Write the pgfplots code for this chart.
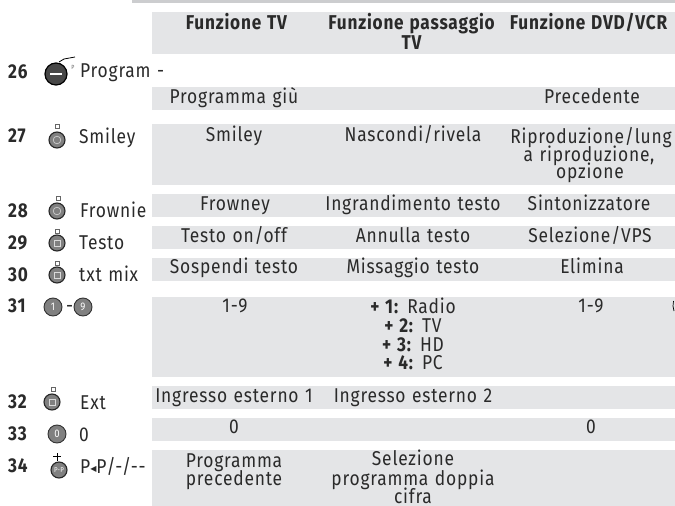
\documentclass[border=0pt]{standalone}
\usepackage{pgfplots}
\pgfplotsset{compat=1.18}
\usepackage{fontspec}
\setmainfont[FakeStretch=0.87,LetterSpace=4,Ligatures=NoCommon,WordSpace=1.2,BoldFeatures={FakeStretch=0.86}]{Fira Sans}
\newfontfamily\djv{DejaVu Sans}
\definecolor{band}{HTML}{E4E5E7}
\definecolor{topband}{HTML}{CCCDCF}
\definecolor{ink}{HTML}{2A2A2A}
\newcommand{\cell}[3]{\node[anchor=base,inner sep=0pt,text=ink] at (axis cs:#1,#2) {#3};}
\newcommand{\lft}[3]{\node[anchor=base west,inner sep=0pt,text=ink] at (axis cs:#1,#2) {#3};}
\newcommand{\wht}[4]{\node[inner sep=0pt,text=white] at (axis cs:#1,#2) {\fontsize{#4}{#4}\selectfont #3};}
\newcommand{\band}[5]{\addplot[fill=#5,draw=none] coordinates {(#1,#3) (#2,#3) (#2,#4) (#1,#4)} -- cycle;}
\begin{document}
\begin{tikzpicture}
\path[use as bounding box] (0,0) rectangle (675pt,506pt);
\fontsize{20pt}{20pt}\selectfont
\begin{axis}[at={(0,0)},anchor=south west,scale only axis,width=675pt,height=506pt,
 xmin=0,xmax=675,ymin=0,ymax=506,y dir=reverse,hide axis,clip=true,clip mode=individual]
\band{132}{675}{0}{3}{topband}
\band{152}{675}{12}{54}{band}
\band{152}{675}{87}{110}{band}
\band{152}{675}{124}{185}{band}
\band{152}{675}{194}{217}{band}
\band{152}{675}{226}{249}{band}
\band{152}{675}{258}{281}{band}
\band{152}{675}{297}{377}{band}
\band{152}{675}{386}{409}{band}
\band{152}{675}{418}{441}{band}
\band{152}{675}{450}{506}{band}
% buttons: body
\addplot[only marks,mark=*,mark size=11pt,mark options={fill=black!72,draw=black,line width=1.2pt}] coordinates {(56,74)};
\addplot[only marks,mark=*,mark size=8pt,mark options={fill=black!50,draw=black!85,line width=1.1pt}] coordinates {(57,140)(57,211)(57,243)(57,275)(52,402)(59,470)};
\addplot[only marks,mark=*,mark size=9pt,mark options={fill=black!50,draw=black!80,line width=.9pt}] coordinates {(53,307)(83,307)(57,434)};
% button inner glyphs
\addplot[only marks,mark=o,mark size=3.8pt,mark options={draw=black!20,line width=.7pt}] coordinates {(57,140)(57,211)};
\addplot[only marks,mark=square,mark size=3pt,mark options={draw=black!15,line width=.7pt}] coordinates {(57,243)(57,275)(52,402)};
\addplot[only marks,mark=square,mark size=2pt,mark options={draw=black!60,line width=.5pt}] coordinates {(57,126)(58,198)(57,231)(57,263)(53,389)};
\addplot[draw=white,line width=1.5pt] coordinates {(50,74)(62,74)};
\addplot[draw=black,line width=.8pt] coordinates {(59,62)(64,59)(75,57)};
\addplot[draw=black,line width=.7pt] coordinates {(57,453)(57,461)};
\addplot[draw=black,line width=.7pt] coordinates {(53,456)(61,456)};
\addplot[draw=black,line width=.7pt] coordinates {(673.5,301)(673,306)(674,311)};
\wht{53}{307}{1}{11pt}
\wht{83}{307}{9}{11pt}
\wht{57}{434}{0}{11pt}
\wht{59}{470}{P-P}{7pt}
\node[inner sep=0pt,text=black!60] at (axis cs:73,67) {\fontsize{6pt}{6pt}\selectfont P};
% row numbers
\lft{8}{78}{\textbf{26}}
\lft{8}{142}{\textbf{27}}
\lft{8}{217}{\textbf{28}}
\lft{8}{249}{\textbf{29}}
\lft{8}{281}{\textbf{30}}
\lft{8}{312}{\textbf{31}}
\lft{8}{408}{\textbf{32}}
\lft{8}{440}{\textbf{33}}
\lft{8}{472}{\textbf{34}}
% names
\lft{80}{77}{Program -}
\lft{79}{143}{Smiley}
\lft{80}{217}{Frownie}
\lft{79}{249}{Testo}
\lft{79}{281}{txt mix}
\lft{66}{312}{-}
\lft{80}{409}{Ext}
\lft{79}{441}{0}
\lft{80}{473}{P{\djv\fontsize{8pt}{8pt}\selectfont\raisebox{2pt}{◀}}P/-/-{}-}
% header
\cell{237}{29}{\textbf{Funzione TV}}
\cell{412}{29}{\textbf{Funzione passaggio}}
\cell{412}{49}{\textbf{TV}}
\cell{589}{29}{\textbf{Funzione DVD/VCR}}
% rows
\cell{234}{103}{Programma giù}
\cell{592}{103}{Precedente}
\cell{234}{141}{Smiley}
\cell{413}{141}{Nascondi/rivela}
\cell{591}{143}{Riproduzione/lung}
\cell{589}{161}{a riproduzione,}
\cell{590}{178}{opzione}
\cell{235}{210}{Frowney}
\cell{413}{210}{Ingrandimento testo}
\cell{589}{210}{Sintonizzatore}
\cell{234}{242}{Testo on/off}
\cell{413}{242}{Annulla testo}
\cell{590}{242}{Selezione/VPS}
\cell{234}{273}{Sospendi testo}
\cell{413}{273}{Missaggio testo}
\cell{592}{273}{Elimina}
\cell{235}{312}{1-9}
\cell{591}{312}{1-9}
\cell{413}{313}{\textbf{+ 1:} Radio}
\cell{413}{332}{\textbf{+ 2:} TV}
\cell{413}{351}{\textbf{+ 3:} HD}
\cell{413}{369}{\textbf{+ 4:} PC}
\cell{234}{402}{Ingresso esterno 1}
\cell{413}{402}{Ingresso esterno 2}
\cell{234}{433}{0}
\cell{591}{433}{0}
\cell{234}{467}{Programma}
\cell{234}{485}{precedente}
\cell{413}{465}{Selezione}
\cell{413}{485}{programma doppia}
\cell{413}{503}{cifra}
\end{axis}
\end{tikzpicture}
\end{document}
